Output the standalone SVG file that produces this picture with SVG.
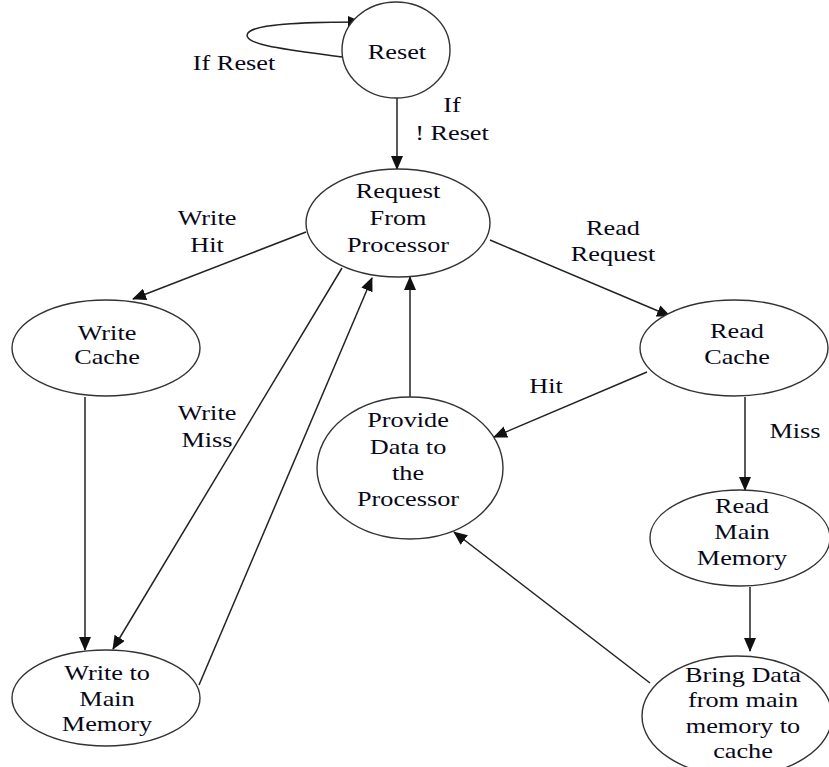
<svg xmlns="http://www.w3.org/2000/svg" width="829" height="767" viewBox="0 0 829 767">
<style>
.n{fill:#fff;stroke:#333;stroke-width:1.4}
.e{fill:none;stroke:#222;stroke-width:1.5}
text{font-family:"Liberation Serif","Times New Roman",serif;font-size:21px;fill:#080818;text-anchor:middle}
</style>
<defs>
<marker id="a" markerUnits="userSpaceOnUse" markerWidth="14" markerHeight="12" refX="13" refY="6" orient="auto">
<path d="M0,0 L14,6 L0,12 Z" fill="#111"/>
</marker>
</defs>
<rect width="829" height="767" fill="#fff"/>
<g id="edges">
<path class="e" d="M343 57 C290 50,240 45,248 33 C254 24,300 22,361 22" marker-end="url(#a)"/>
<path class="e" d="M397 98 L397 169" marker-end="url(#a)"/>
<path class="e" d="M306 232 L133 299" marker-end="url(#a)"/>
<path class="e" d="M490 240 L670 316" marker-end="url(#a)"/>
<path class="e" d="M85 397 L85 650" marker-end="url(#a)"/>
<path class="e" d="M342 268 L113 649" marker-end="url(#a)"/>
<path class="e" d="M199 685 L372 278" marker-end="url(#a)"/>
<path class="e" d="M410 397 L410 277" marker-end="url(#a)"/>
<path class="e" d="M647 372 L494 437" marker-end="url(#a)"/>
<path class="e" d="M745 397 L745 490" marker-end="url(#a)"/>
<path class="e" d="M750 587 L750 651" marker-end="url(#a)"/>
<path class="e" d="M650 683 L454 532" marker-end="url(#a)"/>
<text transform="translate(234 0) scale(1.25 1)" y="70">If Reset</text>
<text transform="translate(452 0) scale(1.25 1)" y="112">If</text>
<text transform="translate(452 0) scale(1.25 1)" y="140">! Reset</text>
<text transform="translate(207 0) scale(1.25 1)" y="225">Write</text>
<text transform="translate(207 0) scale(1.25 1)" y="252">Hit</text>
<text transform="translate(613 0) scale(1.25 1)" y="235">Read</text>
<text transform="translate(613 0) scale(1.25 1)" y="261">Request</text>
<text transform="translate(207 0) scale(1.25 1)" y="420">Write</text>
<text transform="translate(207 0) scale(1.25 1)" y="447">Miss</text>
<text transform="translate(546 0) scale(1.25 1)" y="393">Hit</text>
<text transform="translate(795 0) scale(1.25 1)" y="438">Miss</text>
</g>
<g id="reset">
<ellipse class="n" cx="396" cy="50" rx="54" ry="48"/>
<text transform="translate(397 0) scale(1.25 1)" y="59">Reset</text>
</g>
<g id="request">
<ellipse class="n" cx="398" cy="223" rx="92" ry="54"/>
<text transform="translate(398 0) scale(1.25 1)" y="198">Request</text>
<text transform="translate(398 0) scale(1.25 1)" y="225">From</text>
<text transform="translate(398 0) scale(1.25 1)" y="252">Processor</text>
</g>
<g id="writecache">
<ellipse class="n" cx="106" cy="348" rx="94" ry="48"/>
<text transform="translate(107 0) scale(1.25 1)" y="340">Write</text>
<text transform="translate(107 0) scale(1.25 1)" y="364">Cache</text>
</g>
<g id="readcache">
<ellipse class="n" cx="734" cy="348" rx="94" ry="48"/>
<text transform="translate(737 0) scale(1.25 1)" y="338">Read</text>
<text transform="translate(737 0) scale(1.25 1)" y="364">Cache</text>
</g>
<g id="provide">
<ellipse class="n" cx="410" cy="468" rx="93" ry="71"/>
<text transform="translate(408 0) scale(1.25 1)" y="427">Provide</text>
<text transform="translate(408 0) scale(1.25 1)" y="454">Data to</text>
<text transform="translate(408 0) scale(1.25 1)" y="480">the</text>
<text transform="translate(408 0) scale(1.25 1)" y="506">Processor</text>
</g>
<g id="readmain">
<ellipse class="n" cx="740" cy="538" rx="90" ry="48"/>
<text transform="translate(742 0) scale(1.25 1)" y="513">Read</text>
<text transform="translate(742 0) scale(1.25 1)" y="539">Main</text>
<text transform="translate(742 0) scale(1.25 1)" y="565">Memory</text>
</g>
<g id="writemain">
<ellipse class="n" cx="106" cy="698" rx="94" ry="48"/>
<text transform="translate(107 0) scale(1.25 1)" y="680">Write to</text>
<text transform="translate(107 0) scale(1.25 1)" y="706">Main</text>
<text transform="translate(107 0) scale(1.25 1)" y="731">Memory</text>
</g>
<g id="bring">
<ellipse class="n" cx="737" cy="716" rx="95" ry="60"/>
<text transform="translate(743 0) scale(1.25 1)" y="682">Bring Data</text>
<text transform="translate(743 0) scale(1.25 1)" y="707">from main</text>
<text transform="translate(743 0) scale(1.25 1)" y="733">memory to</text>
<text transform="translate(743 0) scale(1.25 1)" y="758">cache</text>
</g>
</svg>
